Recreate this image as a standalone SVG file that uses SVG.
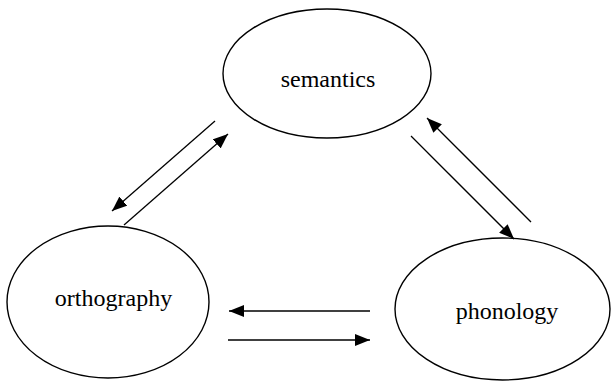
<svg xmlns="http://www.w3.org/2000/svg" width="611" height="384" viewBox="0 0 611 384">
<style>
.node ellipse{fill:#fff;stroke:#000;stroke-width:1.4}
.node text{font-family:"Liberation Serif","Times New Roman",serif;font-size:24px;fill:#000;text-anchor:middle}
.conn line{stroke:#000;stroke-width:1.3}
</style>
<defs>
<marker id="ah" markerUnits="userSpaceOnUse" markerWidth="16" markerHeight="12" refX="15" refY="6" orient="auto">
<path d="M0,0 L15,6 L0,12 z" fill="#000"/>
</marker>
</defs>
<rect width="611" height="384" fill="#fff"/>
<g id="semantics" class="node">
<ellipse cx="327" cy="73.5" rx="104" ry="64.5"/>
<text x="328" y="87">semantics</text>
</g>
<g id="orthography" class="node">
<ellipse cx="108" cy="302" rx="101" ry="76"/>
<text x="113.5" y="306">orthography</text>
</g>
<g id="phonology" class="node">
<ellipse cx="502.5" cy="309" rx="107.5" ry="71"/>
<text x="507" y="319">phonology</text>
</g>
<g id="connectors" class="conn">
<line x1="215" y1="121" x2="112" y2="211" marker-end="url(#ah)"/>
<line x1="124" y1="225" x2="228" y2="134" marker-end="url(#ah)"/>
<line x1="531" y1="222" x2="427" y2="118" marker-end="url(#ah)"/>
<line x1="411" y1="136" x2="514" y2="239" marker-end="url(#ah)"/>
<line x1="370" y1="311" x2="229" y2="311" marker-end="url(#ah)"/>
<line x1="228" y1="340" x2="370" y2="340" marker-end="url(#ah)"/>
</g>
</svg>
